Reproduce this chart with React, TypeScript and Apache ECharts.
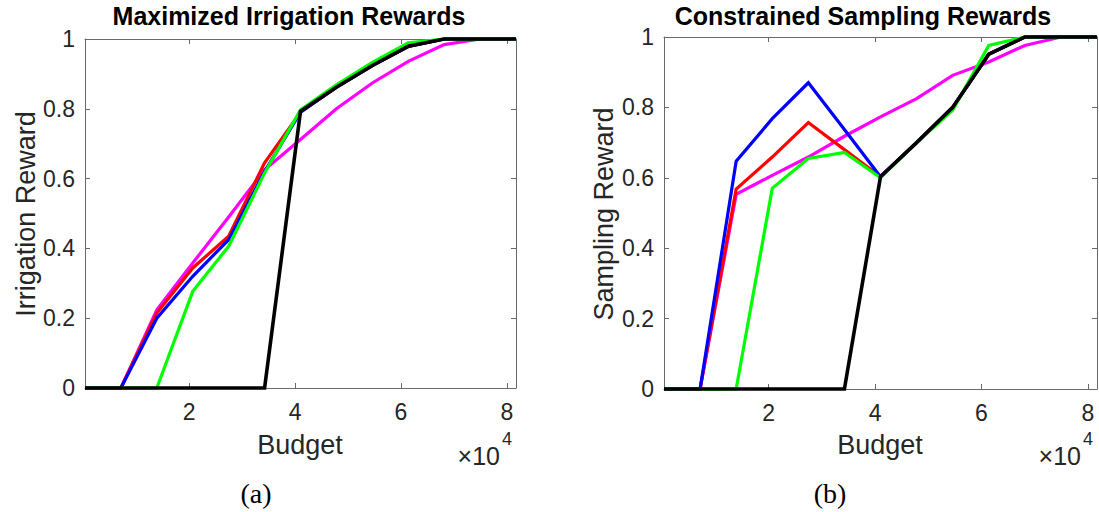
import React, { useEffect, useRef } from "react";
import * as echarts from "echarts";

const budget = [350, 7130, 13910, 20690, 27470, 34250, 41030, 47810, 54590, 61370, 68150, 74930, 81710];
const xTickValues = [20000, 40000, 60000, 80000];
const yTickLabels = ["0", "0.2", "0.4", "0.6", "0.8", "1"];

// (a) Maximized Irrigation Rewards
const irrMagenta = [0, 0, 0.224, 0.358, 0.49, 0.625, 0.712, 0.8, 0.874, 0.936, 0.984, 1, 1];
const irrRed = [0, 0, 0.215, 0.344, 0.435, 0.645, 0.79, 0.862, 0.924, 0.979, 1, 1, 1];
const irrBlue = [0, 0, 0.2, 0.32, 0.425, 0.62, 0.79, 0.862, 0.924, 0.979, 1, 1, 1];
const irrGreen = [0, 0, 0, 0.277, 0.406, 0.616, 0.797, 0.869, 0.933, 0.989, 1, 1, 1];
const irrBlack = [0, 0, 0, 0, 0, 0, 0.793, 0.862, 0.924, 0.979, 1, 1, 1];

// (b) Constrained Sampling Rewards
const smpMagenta = [0, 0, 0.553, 0.607, 0.659, 0.718, 0.773, 0.825, 0.891, 0.929, 0.976, 1, 1];
const smpRed = [0, 0, 0.568, 0.659, 0.757, 0.68, 0.603, 0.7, 0.8, 0.951, 1, 1, 1];
const smpBlue = [0, 0, 0.647, 0.768, 0.87, 0.737, 0.603, 0.7, 0.8, 0.951, 1, 1, 1];
const smpGreen = [0, 0, 0, 0.57, 0.655, 0.672, 0.6, 0.7, 0.792, 0.976, 1, 1, 1];
const smpBlack = [0, 0, 0, 0, 0, 0, 0.603, 0.7, 0.8, 0.951, 1, 1, 1];

const FONT = "Liberation Sans";
const AXIS_COLOR = "#6a6a6a";
const TEXT_COLOR = "#262626";

function xAxes(gridIndex: number) {
  const common = {
    type: "value",
    gridIndex,
    min: budget[0],
    max: budget[budget.length - 1],
    splitLine: { show: false },
    axisLine: { show: true, onZero: false, lineStyle: { color: AXIS_COLOR, width: 1 } },
    axisTick: { show: true, inside: true, length: 5, customValues: xTickValues, lineStyle: { color: AXIS_COLOR } },
  };
  return [
    {
      ...common,
      position: "bottom",
      axisLabel: {
        show: true,
        customValues: xTickValues,
        formatter: (v: number) => String(v / 10000),
        fontFamily: FONT,
        fontSize: 23,
        color: TEXT_COLOR,
        margin: 12,
      },
    },
    { ...common, position: "top", axisLabel: { show: false } },
  ];
}

function yAxes(gridIndex: number) {
  const common = {
    type: "value",
    gridIndex,
    min: 0,
    max: 1,
    interval: 0.2,
    splitLine: { show: false },
    axisLine: { show: true, onZero: false, lineStyle: { color: AXIS_COLOR, width: 1 } },
    axisTick: { show: true, inside: true, length: 5, lineStyle: { color: AXIS_COLOR } },
  };
  return [
    {
      ...common,
      position: "left",
      axisLabel: {
        show: true,
        formatter: (v: number) => yTickLabels[Math.round(v * 5)],
        fontFamily: FONT,
        fontSize: 23,
        color: TEXT_COLOR,
        margin: 10,
      },
    },
    { ...common, position: "right", axisLabel: { show: false } },
  ];
}

function line(vals: number[], color: string, axisIdx: number, width = 3.2) {
  return {
    type: "line",
    xAxisIndex: axisIdx,
    yAxisIndex: axisIdx,
    data: budget.map((b, i) => [b, vals[i]]),
    symbol: "none",
    showSymbol: false,
    clip: false,
    lineStyle: { color, width, cap: "butt", join: "miter" },
    emphasis: { disabled: true },
  };
}

function text(x: number, y: number, t: string, style: any = {}, extra: any = {}) {
  return {
    type: "text",
    x,
    y,
    ...extra,
    style: {
      text: t,
      fontFamily: FONT,
      fontSize: 27,
      fill: TEXT_COLOR,
      align: "center",
      verticalAlign: "middle",
      ...style,
    },
  };
}

export default function App() {
  const ref = useRef<HTMLDivElement>(null);
  useEffect(() => {
    if (!ref.current) return;
    const chart = echarts.init(ref.current, undefined, { renderer: "svg" });
    const xa = [...xAxes(0), ...xAxes(1)];
    const ya = [...yAxes(0), ...yAxes(1)];
    const option: any = {
      animation: false,
      backgroundColor: "#ffffff",
      grid: [
        { left: 85, top: 39, width: 431, height: 349 },
        { left: 664, top: 37, width: 433, height: 352 },
      ],
      xAxis: xa,
      yAxis: ya,
      series: [
        line(irrMagenta, "#ff00ff", 0),
        line(irrRed, "#ff0000", 0),
        line(irrBlue, "#0000ff", 0),
        line(irrGreen, "#00ff00", 0),
        line(irrBlack, "#000000", 0, 3.6),
        line(smpMagenta, "#ff00ff", 2),
        line(smpRed, "#ff0000", 2),
        line(smpBlue, "#0000ff", 2),
        line(smpGreen, "#00ff00", 2),
        line(smpBlack, "#000000", 2, 3.6),
      ],
      graphic: [
        text(289, 16, "Maximized Irrigation Rewards", { fontWeight: "bold", fontSize: 25, fill: "#000" }),
        text(863, 16, "Constrained Sampling Rewards", { fontWeight: "bold", fontSize: 25, fill: "#000" }),
        text(26, 214, "Irrigation Reward", {}, { rotation: Math.PI / 2 }),
        text(604, 214, "Sampling Reward", {}, { rotation: Math.PI / 2 }),
        text(300, 445, "Budget"),
        text(880, 445, "Budget"),
        text(500, 456, "×10", { align: "right", fontSize: 25 }),
        text(502, 439, "4", { align: "left", fontSize: 18 }),
        text(1081, 456, "×10", { align: "right", fontSize: 25 }),
        text(1083, 439, "4", { align: "left", fontSize: 18 }),
        text(256, 493, "(a)", { fontFamily: "Liberation Serif", fontSize: 28, fill: "#000" }),
        text(830, 493, "(b)", { fontFamily: "Liberation Serif", fontSize: 28, fill: "#000" }),
      ],
    };
    chart.setOption(option);
    return () => chart.dispose();
  }, []);
  return (
    <div
      ref={ref}
      style={{ position: "fixed", left: 0, top: 0, width: 1099, height: 512, background: "#fff" }}
    />
  );
}
